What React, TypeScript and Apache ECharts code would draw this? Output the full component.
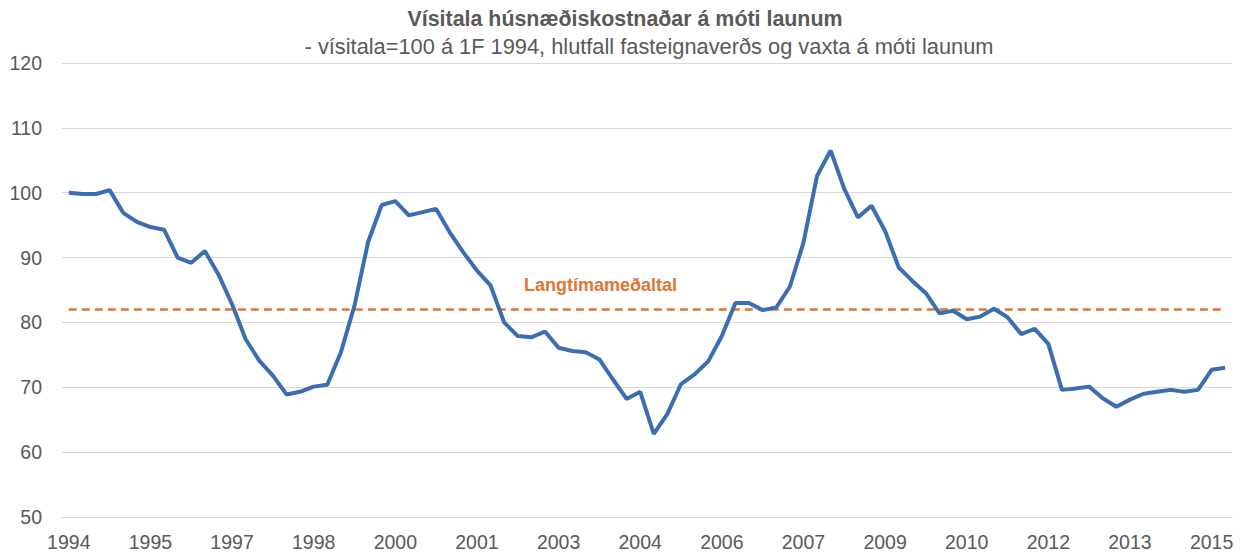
import React, { useEffect, useRef } from "react";
import * as echarts from "echarts";

const TITLE = "Vísitala húsnæðiskostnaðar á móti launum";
const SUBTITLE = "- vísitala=100 á 1F 1994, hlutfall fasteignaverðs og vaxta á móti launum";
const AVG_LABEL = "Langtímameðaltal";

const START_YEAR = 1994;
const QUARTER_COUNT = 86;
const categories: string[] = Array.from({ length: QUARTER_COUNT }, (_, i) =>
  `${START_YEAR + Math.floor(i / 4)}Q${(i % 4) + 1}`
);

const indexValues: number[] = [
  100.0, 99.8, 99.8, 100.4, 96.9, 95.5, 94.7, 94.3, 90.0, 89.2,
  91.0, 87.4, 82.8, 77.4, 74.1, 71.8, 68.9, 69.3, 70.1, 70.4,
  75.4, 82.6, 92.4, 98.1, 98.7, 96.5, 97.0, 97.5, 93.9, 90.8,
  88.0, 85.7, 80.0, 77.9, 77.7, 78.6, 76.1, 75.6, 75.4, 74.3,
  71.2, 68.2, 69.3, 62.8, 65.9, 70.5, 72.0, 74.0, 77.9, 83.0,
  83.0, 81.9, 82.3, 85.5, 92.3, 102.6, 106.5, 100.6, 96.2, 98.0,
  94.1, 88.5, 86.4, 84.5, 81.4, 81.8, 80.5, 80.9, 82.1, 80.8,
  78.2, 79.0, 76.7, 69.6, 69.8, 70.1, 68.3, 67.0, 68.1, 69.0,
  69.3, 69.6, 69.3, 69.6, 72.7, 73.0,
];

const LONG_TERM_AVG = 82;
const avgValues: number[] = categories.map(() => LONG_TERM_AVG);

const yTicks = { min: 50, max: 120, interval: 10 };

export default function App() {
  const ref = useRef<HTMLDivElement>(null);
  useEffect(() => {
    if (!ref.current) return;
    const chart = echarts.init(ref.current, undefined, { renderer: "svg" });
    const font = "'Liberation Sans', Arial, sans-serif";
    chart.setOption({
      animation: false,
      backgroundColor: "#ffffff",
      title: [
        {
          text: TITLE,
          left: 620,
          textAlign: "center",
          top: 3,
          textStyle: { fontFamily: font, fontSize: 21.4, fontWeight: "bold", color: "#595959" },
        },
        {
          text: SUBTITLE,
          left: 644,
          textAlign: "center",
          top: 30,
          textStyle: { fontFamily: font, fontSize: 21.8, fontWeight: "normal", color: "#595959" },
        },
      ],
      grid: { left: 62, right: 14, top: 63, bottom: 34, containLabel: false },
      xAxis: {
        type: "category",
        data: categories,
        boundaryGap: true,
        axisLine: { show: true, lineStyle: { color: "#d9d9d9", width: 1 } },
        axisTick: { show: false },
        axisLabel: {
          interval: 5,
          formatter: (v: string) => v.slice(0, 4),
          fontFamily: font,
          fontSize: 19.5,
          color: "#595959",
          margin: 15,
        },
        splitLine: { show: false },
      },
      yAxis: {
        type: "value",
        min: yTicks.min,
        max: yTicks.max,
        interval: yTicks.interval,
        axisLine: { show: false },
        axisTick: { show: false },
        axisLabel: { fontFamily: font, fontSize: 19.5, color: "#595959", margin: 20 },
        splitLine: { lineStyle: { color: "#d9d9d9", width: 1 } },
      },
      series: [
        {
          type: "line",
          data: indexValues,
          showSymbol: false,
          lineStyle: { color: "#3b6db3", width: 4 },
          z: 3,
        },
        {
          type: "line",
          data: avgValues,
          showSymbol: false,
          lineStyle: { color: "#e07634", width: 2.5, type: [8, 5] },
          z: 2,
        },
      ],
      graphic: [
        {
          type: "text",
          left: 524,
          top: 276,
          style: {
            text: AVG_LABEL,
            fontFamily: font,
            fontSize: 18,
            fontWeight: "bold",
            fill: "#e07634",
          },
        },
      ],
    });
    return () => chart.dispose();
  }, []);
  return (
    <div
      ref={ref}
      style={{ position: "absolute", left: 0, top: 0, width: 1246, height: 552 }}
    />
  );
}
